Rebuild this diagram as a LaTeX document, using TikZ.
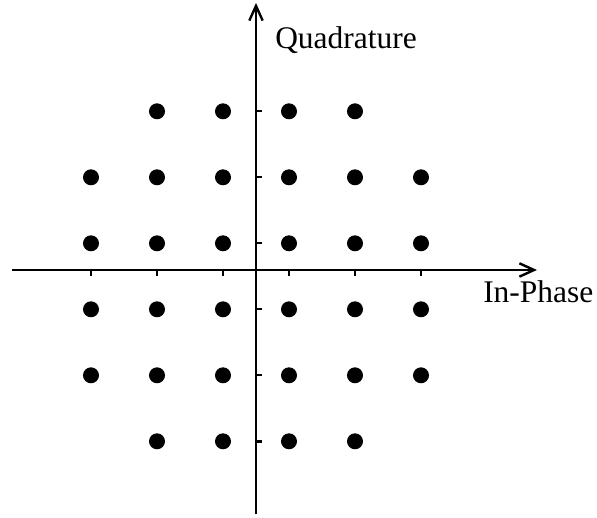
\documentclass[tikz,border=0pt]{standalone}
\usepackage{fontspec}
\setmainfont{Liberation Serif}
\usetikzlibrary{arrows.meta}

\begin{document}
\begin{tikzpicture}[
  x=0.75pt, y=0.75pt,
  axis/.style={line width=1.8pt,-{Straight Barb[length=11pt,width=10pt,line width=1.8pt]}},
  tick/.style={line width=1.8pt},
  sym/.style={circle,fill=black,inner sep=0pt,minimum size=12pt},
  lbl/.style={font=\fontsize{23.6}{28}\selectfont,inner sep=0pt},
]
\useasboundingbox (-256,-248) rectangle (341,270);

% --- axes ---
\coordinate (iw) at (-244,0);
\coordinate (ie) at (281,0);
\coordinate (qs) at (0,-244);
\coordinate (qn) at (0,267);
\draw[axis] (iw) -- (ie);
\draw[axis] (qs) -- (qn);
\node[lbl,anchor=base west] (ilbl) at (227,-33) {In-Phase};
\node[lbl,anchor=base west] (qlbl) at (19,221) {Quadrature};

% --- ticks ---
\foreach \k in {-165,-99,-33,33,99,165} {
  \draw[tick] (\k,0) -- (\k,-6);
  \draw[tick] (0,\k-6.3) -- (6,\k-6.3);
}

% --- 32-point cross constellation ---
\foreach \i in {-165,-99,-33,33,99,165} {
  \foreach \q in {-165,-99,-33,33,99,165} {
    \pgfmathtruncatemacro{\corner}{abs(\i)==165 && abs(\q)==165}
    \ifnum\corner=0
      \node[sym] (s\i\q) at (\i,\q-6.3) {};
    \fi
  }
}
\end{tikzpicture}
\end{document}
